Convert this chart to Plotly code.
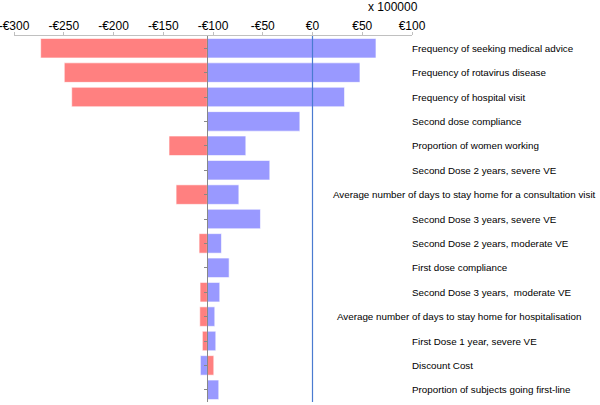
import plotly.graph_objects as go

categories = [
    "Frequency of seeking medical advice",
    "Frequency of rotavirus disease",
    "Frequency of hospital visit",
    "Second dose compliance",
    "Proportion of women working",
    "Second Dose 2 years, severe VE",
    "Average number of days to stay home for a consultation visit",
    "Second Dose 3 years, severe VE",
    "Second Dose 2 years, moderate VE",
    "First dose compliance",
    "Second Dose 3 years,  moderate VE",
    "Average number of days to stay home for hospitalisation",
    "First Dose 1 year, severe VE",
    "Discount Cost",
    "Proportion of subjects going first-line",
]
baseline = -105.6
# outcome endpoints (x 100000 €)
red_values = [-273.2, -249.5, -242.0, -105.6, -144.2, -105.6, -137.1, -105.6,
              -114.0, -105.6, -113.0, -113.3, -110.7, -99.2, -105.6]
blue_values = [63.8, 47.7, 32.2, -12.7, -67.0, -42.9, -74.0, -52.3,
               -91.5, -83.8, -93.2, -98.2, -97.2, -112.7, -94.2]
tick_vals = [-300, -250, -200, -150, -100, -50, 0, 50, 100]
tick_text = ["-€300", "-€250", "-€200", "-€150", "-€100", "-€50", "€0", "€50", "€100"]
x_range = [-300, 100]

FONT = "Liberation Sans, Arial, sans-serif"

fig = go.Figure()
fig.add_trace(go.Bar(
    y=categories, x=[v - baseline for v in red_values], base=baseline,
    orientation="h", width=0.8,
    marker=dict(color="#FF8080", line=dict(color="rgba(255,255,255,0.6)", width=1)),
    showlegend=False, hoverinfo="skip",
))
fig.add_trace(go.Bar(
    y=categories, x=[v - baseline for v in blue_values], base=baseline,
    orientation="h", width=0.8, opacity=1,
    marker=dict(color="#9999FF", line=dict(color="rgba(255,255,255,0.6)", width=1)),
    showlegend=False, hoverinfo="skip",
))

# vertical line at zero
fig.add_shape(type="line", x0=0, x1=0, xref="x", y0=0, y1=1, yref="paper",
              line=dict(color="#4A7BD0", width=1.2), layer="above")

# labels on the right
long_labels = {
    "Average number of days to stay home for a consultation visit": 1.467,
    "Average number of days to stay home for hospitalisation": 1.4296,
}
for c in categories:
    if c in long_labels:
        fig.add_annotation(x=long_labels[c], xref="paper", y=c, yref="y", text=c,
                           showarrow=False, xanchor="right",
                           font=dict(family=FONT, size=9.8, color="#000"))
    else:
        fig.add_annotation(x=0.995, xref="paper", y=c, yref="y", text=c,
                           showarrow=False, xanchor="left",
                           font=dict(family=FONT, size=9.8, color="#000"))

fig.add_annotation(x=0.952, xref="paper", y=1.08, yref="paper", text="x 100000",
                   showarrow=False, xanchor="center", yanchor="middle",
                   font=dict(family=FONT, size=12, color="#000"))

ypos = (baseline - x_range[0]) / (x_range[1] - x_range[0])

fig.update_layout(
    width=600, height=405,
    margin=dict(l=14, r=188, t=36, b=3, autoexpand=False),
    paper_bgcolor="white", plot_bgcolor="white",
    barmode="overlay",
    bargap=0.2,
    font=dict(family=FONT, size=12, color="#000"),
    xaxis=dict(range=x_range, side="top", tickvals=tick_vals, ticktext=tick_text,
               automargin=False, ticklabeloverflow="allow", ticklabelstandoff=-3,
               showgrid=False, zeroline=False, showline=True, linecolor="#C0C0C0",
               linewidth=1, ticks="outside", ticklen=3, tickcolor="#C0C0C0",
               tickfont=dict(family=FONT, size=12, color="#000")),
    yaxis=dict(categoryorder="array", categoryarray=categories, autorange="reversed",
               automargin=False,
               showgrid=False, zeroline=False, showticklabels=False,
               showline=True, linecolor="#888888", linewidth=1,
               ticks="outside", ticklen=3, tickcolor="#888888",
               anchor="free", position=ypos),
)

fig.write_html("out.html", config={"displayModeBar": False},
               post_script="document.body.style.margin='0';")
